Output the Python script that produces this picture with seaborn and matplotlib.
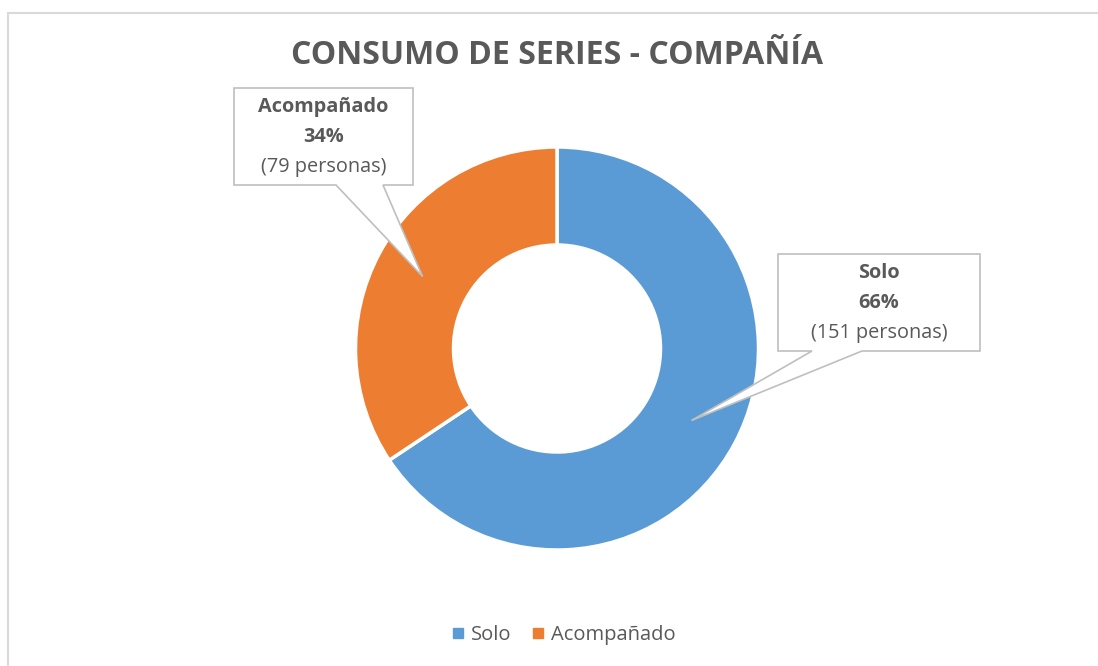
"""Donut chart: consumo de series por compañía."""

import numpy as np
import matplotlib
matplotlib.use("Agg")
import matplotlib.pyplot as plt
from matplotlib.lines import Line2D
from matplotlib.patches import Polygon, Rectangle
import seaborn as sns

# data
categories = ["Solo", "Acompañado"]
counts = [151, 79]
colors = ["#5B9BD5", "#ED7D31"]

sns.set_theme(style="white")
plt.rcParams["font.family"] = ["Open Sans", "DejaVu Sans"]

W, H = 1098, 666
TEXT = "#595959"

fig = plt.figure(figsize=(W / 100, H / 100), dpi=100)
ax = fig.add_axes([0, 0, 1, 1])

# work in pixel coordinates, y measured upward
cx, cy = 557, H - 348.5
R, ring = 201.5, 98

wedges, _ = ax.pie(
    counts, colors=colors, startangle=90, counterclock=False,
    radius=R, center=(cx, cy),
    wedgeprops=dict(width=ring, edgecolor="white", linewidth=2.5),
)
ax.set_xlim(0, W)
ax.set_ylim(0, H)
ax.set_aspect("equal")
ax.axis("off")

# chart border (clipped at right/bottom like the screenshot)
ax.add_patch(Rectangle((8, -20), W + 20, H - 13 + 20, fill=False,
                       edgecolor="#D9D9D9", linewidth=1.5))

ax.text(cx, H - 56, "CONSUMO DE SERIES - COMPAÑÍA", ha="center", va="center",
        fontsize=23, fontweight="bold", color=TEXT)

# callouts: box (left, top, right, bottom in screen px), pointer base on bottom edge
boxes = [
    (778, 254, 980, 351, 812, 862),  # Solo
    (234, 88, 413, 185, 336, 383),   # Acompañado
]
total = sum(counts)
for w, name, n, (l, t, r, b, b0, b1) in zip(wedges, categories, counts, boxes):
    mid = np.deg2rad((w.theta1 + w.theta2) / 2)
    rr = R - ring / 2
    tip = (cx + rr * np.cos(mid), cy + rr * np.sin(mid))
    pts = [(l, H - t), (r, H - t), (r, H - b), (b1, H - b), tip,
           (b0, H - b), (l, H - b)]
    ax.add_patch(Polygon(pts, closed=True, facecolor="white",
                         edgecolor="#BFBFBF", linewidth=1.2, zorder=5))
    xm = (l + r) / 2
    ax.text(xm, H - (t + 19), name, ha="center", va="center", fontsize=14.3,
            fontweight="bold", color=TEXT, zorder=6)
    ax.text(xm, H - (t + 49), f"{n / total:.0%}", ha="center", va="center",
            fontsize=14.3, fontweight="bold", color=TEXT, zorder=6)
    ax.text(xm, H - (t + 79), f"({n} personas)", ha="center", va="center",
            fontsize=14.3, color=TEXT, zorder=6)

handles = [Line2D([], [], marker="s", linestyle="", markersize=7,
                  markerfacecolor=c, markeredgecolor=c) for c in colors]
ax.legend(handles, categories, loc="center", ncol=2, frameon=False,
          bbox_to_anchor=(563 / W, 1 - 635 / H), fontsize=14.5,
          labelcolor=TEXT, handletextpad=0.25, columnspacing=0.9,
          handlelength=0.8)

fig.savefig("out.png", dpi=100)
plt.close(fig)
